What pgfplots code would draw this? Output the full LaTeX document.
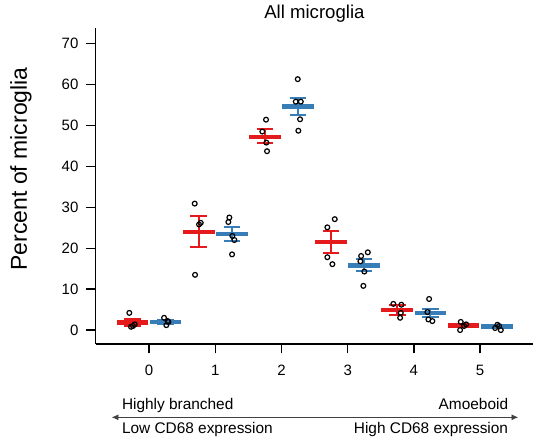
\documentclass[border=0pt]{standalone}
\usepackage{pgfplots}
\pgfplotsset{compat=1.18}
\usepackage{pgfplotstable}
\usepackage{fontspec}
\setmainfont{Liberation Sans}
\usetikzlibrary{arrows.meta}
\definecolor{RED}{HTML}{E41A1C}
\definecolor{BLUE}{HTML}{377EB8}

% group means with upper / lower error lengths
\pgfplotstableread{
x     m    ep   em
-0.25 1.8  0.9  0.9
0.75  24.0 3.9  3.6
1.75  47.2 1.9  1.6
2.75  21.5 2.7  2.6
3.75  4.9  1.2  1.1
4.75  1.2  0.4  0.4
}\redstats
\pgfplotstableread{
x    m    ep   em
0.25 2.0  0.4  0.4
1.25 23.5 1.6  1.7
2.25 54.6 2.1  2.1
3.25 15.7 1.6  1.3
4.25 4.2  0.9  0.9
5.25 0.8  0.3  0.3
}\bluestats
% individual animals
\pgfplotstableread{
x     y
-0.298 4.2
-0.272 0.8
-0.216 1.4
-0.242 1.0
0.690 30.9
0.781 26.2
0.755 25.8
0.695 13.5
1.767 51.4
1.711 48.5
1.772 45.8
1.782 43.7
2.805 27.1
2.693 25.1
2.693 17.8
2.769 16.1
3.690 6.4
3.811 6.2
3.802 4.2
3.792 3.0
4.708 2.0
4.789 1.4
4.758 1.0
4.698 0.0
}\redpts
\pgfplotstableread{
x     y
0.227 3.0
0.282 2.2
0.261 1.2
0.292 2.0
1.213 27.5
1.198 26.4
1.258 23.0
1.289 22.0
1.254 18.5
2.246 61.3
2.216 55.8
2.292 55.8
2.281 51.5
2.255 48.7
3.304 19.0
3.203 18.1
3.192 16.8
3.252 14.3
3.237 10.8
4.230 7.6
4.204 4.4
4.219 2.6
4.279 2.2
5.261 1.3
5.287 1.0
5.313 0.0
5.227 0.5
}\bluepts

\begin{document}
\begin{tikzpicture}
\useasboundingbox (-71.8bp,-75.75bp) rectangle (333.2bp,258bp);
\begin{axis}[
    at={(0,0)}, anchor=south west,
    scale only axis,
    width=328bp, height=237bp,
    xmin=-0.805, xmax=5.8,
    ymin=-3.4, ymax=73.8,
    axis lines*=left,
    axis line style={line width=1.1bp},
    xtick={0,1,2,3,4,5},
    ytick={0,10,...,70},
    tick align=outside,
    major tick length=7bp,
    tick style={line width=1bp, black},
    ticklabel style={font=\fontsize{11.3}{13}\selectfont},
    xticklabel style={yshift=-5bp},
    yticklabel style={xshift=-2.5bp},
    /pgf/number format/assume math mode=true,
    ylabel=Percent of microglia,
    every axis y label/.style={at={(rel axis cs:-0.171,0.554)}, rotate=90, anchor=center, font=\fontsize{17.3}{20}\selectfont},
    clip=false,
]
% mean bars
\addplot[draw=none, mark=none, error bars/.cd, x dir=both, x fixed=0.24, error mark=none,
    error bar style={line width=3.5bp, draw=RED}] table[x=x, y=m] {\redstats};
\addplot[draw=none, mark=none, error bars/.cd, x dir=both, x fixed=0.24, error mark=none,
    error bar style={line width=3.5bp, draw=BLUE}] table[x=x, y=m] {\bluestats};
% error bars
\addplot[draw=none, mark=none, error bars/.cd, y dir=both, y explicit, error mark=|,
    error mark options={mark size=6.2bp, line width=1.5bp, draw=RED},
    error bar style={line width=1.5bp, draw=RED}]
    table[x=x, y=m, y error plus=ep, y error minus=em] {\redstats};
\addplot[draw=none, mark=none, error bars/.cd, y dir=both, y explicit, error mark=|,
    error mark options={mark size=6.2bp, line width=1.5bp, draw=BLUE},
    error bar style={line width=1.5bp, draw=BLUE}]
    table[x=x, y=m, y error plus=ep, y error minus=em] {\bluestats};
% points
\addplot[only marks, mark=o, mark size=1.8bp, mark options={line width=0.9bp, black}] table {\redpts};
\addplot[only marks, mark=o, mark size=1.8bp, mark options={line width=0.9bp, black}] table {\bluepts};

\node[anchor=base, inner sep=0pt, font=\fontsize{14}{16}\selectfont] at (rel axis cs:0.5,1.031) {All microglia};
% bottom scale
\draw[{Latex[length=5bp,width=4.5bp]}-{Latex[length=5bp,width=4.5bp]}, line width=0.6bp, black!75]
    (rel axis cs:0.0366,-0.232) -- (rel axis cs:0.966,-0.232);
\node[anchor=base west, inner sep=0pt, font=\fontsize{11.6}{13}\selectfont] at (rel axis cs:0.0595,-0.208) {Highly branched};
\node[anchor=base west, inner sep=0pt, font=\fontsize{11.6}{13}\selectfont] at (rel axis cs:0.0595,-0.282) {Low CD68 expression};
\node[anchor=base east, inner sep=0pt, font=\fontsize{11.6}{13}\selectfont] at (rel axis cs:0.9435,-0.208) {Amoeboid};
\node[anchor=base east, inner sep=0pt, font=\fontsize{11.6}{13}\selectfont] at (rel axis cs:0.9435,-0.282) {High CD68 expression};
\end{axis}
\end{tikzpicture}
\end{document}
